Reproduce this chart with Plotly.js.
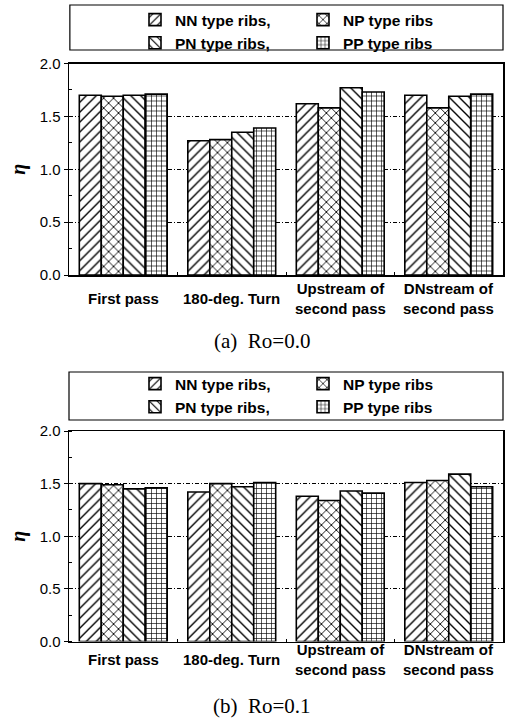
<!DOCTYPE html>
<html><head><meta charset="utf-8">
<script src="https://cdn.plot.ly/plotly-3.0.1.min.js"></script>
<style>html,body{margin:0;padding:0;background:#fff;} #chart{width:509px;height:719px;}</style>
</head><body><div id="chart"></div>
<script>
// ---- data ----
const categories = ["First pass", "180-deg. Turn", "Upstream of second pass", "DNstream of second pass"];
const categoryLabels = ["First pass", "180-deg. Turn", "Upstream of<br>second pass", "DNstream of<br>second pass"];
const seriesNames = ["NN type ribs,", "NP type ribs", "PN type ribs,", "PP type ribs"];
const seriesPatterns = ["/", "x", "\\", "+"];

// (a) Ro = 0.0
const ro00_NN = [1.70, 1.27, 1.62, 1.70];
const ro00_NP = [1.69, 1.28, 1.58, 1.58];
const ro00_PN = [1.70, 1.35, 1.77, 1.69];
const ro00_PP = [1.71, 1.39, 1.73, 1.71];

// (b) Ro = 0.1
const ro01_NN = [1.50, 1.42, 1.38, 1.51];
const ro01_NP = [1.49, 1.50, 1.34, 1.53];
const ro01_PN = [1.45, 1.47, 1.43, 1.59];
const ro01_PP = [1.46, 1.51, 1.41, 1.47];

const yTickVals = [0, 0.5, 1.0, 1.5, 2.0];
const yTickText = ["0.0", "0.5", "1.0", "1.5", "2.0"];
const yTitle = "η";
const captionA = "(a)&nbsp;&nbsp;Ro=0.0";
const captionB = "(b)&nbsp;&nbsp;Ro=0.1";

// ---- build ----
const SANS = "Liberation Sans, Arial, Helvetica, sans-serif";
const SERIF = "Liberation Serif, Times New Roman, serif";
const H = 719;
const py = p => 1 - p / H;
const patternSize = {"/": 7, "\\": 7, "x": 7, "+": 5};
const patternSolidity = {"/": 0.2, "\\": 0.2, "x": 0.24, "+": 0.24};

function makeTraces(sets, xa, ya, legendId) {
  return sets.map((vals, i) => ({
    type: "bar",
    name: seriesNames[i],
    x: categories,
    y: vals,
    xaxis: xa, yaxis: ya,
    legend: legendId,
    marker: {
      color: "#ffffff",
      line: {color: "#000000", width: 1.6},
      pattern: {shape: seriesPatterns[i], fgcolor: "#000000", fgopacity: 1, bgcolor: "#ffffff",
                size: patternSize[seriesPatterns[i]], solidity: patternSolidity[seriesPatterns[i]], fillmode: "overlay"}
    },
    hoverinfo: "x+y+name"
  }));
}

const data = [
  ...makeTraces([ro00_NN, ro00_NP, ro00_PN, ro00_PP], "x", "y", "legend"),
  ...makeTraces([ro01_NN, ro01_NP, ro01_PN, ro01_PP], "x2", "y2", "legend2")
];

function yAxis(domain) {
  return {
    domain: domain, range: [0, 2], fixedrange: true,
    tickmode: "array", tickvals: yTickVals, ticktext: yTickText,
    ticks: "outside", ticklen: 4, tickwidth: 1, tickcolor: "#000",
    minor: {tickmode: "linear", tick0: 0, dtick: 0.25, ticks: "inside", ticklen: 3, tickcolor: "#000", showgrid: false},
    showline: true, linecolor: "#000", linewidth: 1.5, mirror: true,
    showgrid: true, gridcolor: "#000", gridwidth: 1, griddash: "4px,2px,1px,2px",
    zeroline: false,
    tickfont: {family: SANS, size: 15, color: "#000"},
    title: {text: "<b><i>" + yTitle + "</i></b>", font: {family: SERIF, size: 20, color: "#000"}, standoff: 8}
  };
}
function xAxis(anchor) {
  return {
    domain: [0, 1], anchor: anchor, type: "category", fixedrange: true,
    showline: true, linecolor: "#000", linewidth: 1.5, mirror: true,
    ticks: "inside", tickson: "boundaries", ticklen: 3, tickcolor: "#000",
    showticklabels: false, showgrid: false, zeroline: false
  };
}

const annotations = [];
categories.forEach((c, i) => {
  annotations.push({xref: "x", yref: "paper", x: c, y: py(298), yanchor: "middle", xanchor: "center",
    text: "<b>" + categoryLabels[i] + "</b>", showarrow: false,
    font: {family: SANS, size: 15, color: "#000"}});
  annotations.push({xref: "x2", yref: "paper", x: c, y: py(659), yanchor: "middle", xanchor: "center",
    text: "<b>" + categoryLabels[i] + "</b>", showarrow: false,
    font: {family: SANS, size: 15, color: "#000"}});
});
annotations.push({xref: "paper", yref: "paper", x: (262 - 69) / 434, y: py(341), xanchor: "center", yanchor: "middle",
  text: captionA, showarrow: false, font: {family: SERIF, size: 21, color: "#000"}});
annotations.push({xref: "paper", yref: "paper", x: (262 - 69) / 434, y: py(706), xanchor: "center", yanchor: "middle",
  text: captionB, showarrow: false, font: {family: SERIF, size: 21, color: "#000"}});

const legendCommon = {
  orientation: "h", xanchor: "left", yanchor: "top",
  x: (135 - 69) / 434,
  entrywidth: 123, entrywidthmode: "pixels",
  bgcolor: "rgba(0,0,0,0)", borderwidth: 0,
  font: {family: SANS, size: 15.5, color: "#000", weight: "bold"},
  traceorder: "normal", itemclick: false, itemdoubleclick: false
};

const layout = {
  width: 509, height: 719,
  margin: {l: 69, r: 6, t: 0, b: 0, pad: 0},
  paper_bgcolor: "#fff", plot_bgcolor: "#fff",
  font: {family: SANS, color: "#000"},
  barmode: "group", bargap: 0.19, bargroupgap: 0,
  xaxis: xAxis("y"),
  yaxis: yAxis([py(275), py(63.5)]),
  xaxis2: xAxis("y2"),
  yaxis2: yAxis([py(641.5), py(431)]),
  legend: Object.assign({}, legendCommon, {y: py(3)}),
  legend2: Object.assign({}, legendCommon, {y: py(367)}),
  shapes: [
    {type: "rect", xref: "paper", yref: "paper", x0: 0.002, x1: 1, y0: py(50), y1: py(5),
     line: {color: "#000", width: 1.2}, fillcolor: "rgba(0,0,0,0)", layer: "below"},
    {type: "rect", xref: "paper", yref: "paper", x0: 0, x1: 1, y0: py(420), y1: py(372),
     line: {color: "#000", width: 1.2}, fillcolor: "rgba(0,0,0,0)", layer: "below"}
  ],
  annotations: annotations,
  showlegend: true
};

Plotly.newPlot("chart", data, layout, {displayModeBar: false, staticPlot: true});
</script>
</body></html>
